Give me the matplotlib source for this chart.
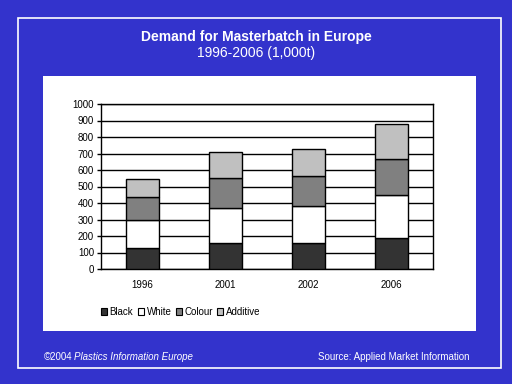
import matplotlib.pyplot as plt
import numpy as np
from matplotlib.patches import Rectangle

plt.rcParams["font.family"] = ["Liberation Sans", "DejaVu Sans"]

years = ["1996", "2001", "2002", "2006"]
black = [127, 156, 156, 186]
white = [168, 212, 224, 261]
colour = [139, 182, 182, 218]
additive = [110, 159, 163, 212]

series = [("Black", black, "#333333"), ("White", white, "#ffffff"),
          ("Colour", colour, "#808080"), ("Additive", additive, "#c0c0c0")]

W, H = 512, 384
blue = "#3333cc"

fig = plt.figure(figsize=(W / 100, H / 100), dpi=100)
fig.patch.set_facecolor(blue)

# white slide frame
fig.patches.append(Rectangle((18 / W, 1 - 368 / H), (501 - 18) / W, (368 - 18) / H,
                             transform=fig.transFigure, fill=False,
                             edgecolor="white", linewidth=1.2, zorder=-2))
# white chart panel
fig.patches.append(Rectangle((43 / W, 1 - 331 / H), (476 - 43) / W, (331 - 76) / H,
                             transform=fig.transFigure, facecolor="white",
                             edgecolor="none", zorder=-1))

fig.text(0.5, 1 - 37 / H, "Demand for Masterbatch in Europe", color="white",
         fontsize=10, fontweight="bold", ha="center", va="center")
fig.text(0.5, 1 - 53 / H, "1996-2006 (1,000t)", color="white",
         fontsize=10, ha="center", va="center")

ax = fig.add_axes([101 / W, 1 - 269 / H, (433 - 101) / W, (269 - 104) / H])
ax.set_facecolor("white")

x = np.arange(len(years))
bottom = np.zeros(len(years))
handles = []
for name, vals, col in series:
    ax.bar(x, vals, width=0.4, bottom=bottom, color=col, edgecolor="black",
           linewidth=1, label=name, zorder=3)
    bottom += np.array(vals)
    handles.append(Rectangle((0, 0), 1, 1, facecolor=col, edgecolor="black",
                             linewidth=0.8))

ax.set_xlim(-0.5, 3.5)
ax.set_ylim(0, 1000)
ax.set_yticks(np.arange(0, 1001, 100))
ax.set_xticks(x)
ax.set_xticklabels(years)
ax.yaxis.grid(True, color="black", linewidth=1, zorder=0)
ax.set_axisbelow(True)
for s in ax.spines.values():
    s.set_color("black")
    s.set_linewidth(1)
ax.tick_params(axis="y", labelsize=7, length=3, width=1, pad=2)
ax.tick_params(axis="x", labelsize=7, length=0, pad=8)

fig.legend(handles=handles, labels=[s[0] for s in series], loc="center left",
           bbox_to_anchor=(101 / W, 1 - 312 / H), ncol=4, frameon=False,
           fontsize=7, handlelength=0.6, handleheight=0.6, handletextpad=0.3,
           columnspacing=0.45, borderaxespad=0, borderpad=0)

fig.text(44 / W, 1 - 357 / H, "\u00a92004", color="white", fontsize=7,
         ha="left", va="center")
fig.text(74 / W, 1 - 357 / H, "Plastics Information Europe", color="white",
         fontsize=7, style="italic", ha="left", va="center")
fig.text(470 / W, 1 - 357 / H, "Source: Applied Market Information",
         color="white", fontsize=7, ha="right", va="center")

fig.savefig("out.png", dpi=100, facecolor=blue)
